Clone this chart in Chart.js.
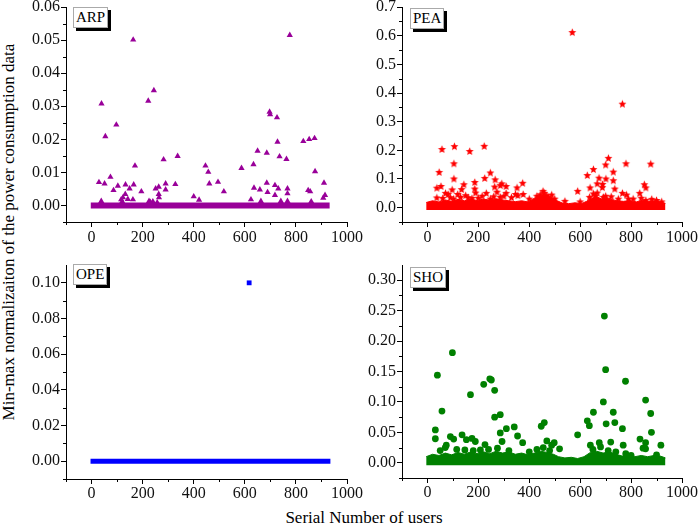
<!DOCTYPE html>
<html>
<head>
<meta charset="utf-8">
<script src="https://cdn.jsdelivr.net/npm/chart.js@4.4.1/dist/chart.umd.min.js"></script>
<style>
body{margin:0;background:#fff;width:699px;height:526px;overflow:hidden;position:relative;font-family:"Liberation Serif","Times New Roman",serif;color:#000;}
canvas{position:absolute;}
.tag{position:absolute;background:#fff;border:1px solid #aaa;box-shadow:3px 3px 0 #000;font-size:15px;line-height:19px;padding:0 2px;box-sizing:border-box;height:21px;}
#ytitle{position:absolute;left:9px;top:232px;transform:translate(-50%,-50%) rotate(-90deg);white-space:nowrap;font-size:17px;}
#xtitle{position:absolute;left:364px;top:518px;transform:translate(-50%,-50%);white-space:nowrap;font-size:17px;}
</style>
</head>
<body>
<div id="ytitle">Min-max normalizaiton of the power consumption data</div>
<div id="xtitle">Serial Number of users</div>
<div class="tag" style="left:73px;top:7px;">ARP</div>
<div class="tag" style="left:410px;top:8px;">PEA</div>
<div class="tag" style="left:73px;top:264px;">OPE</div>
<div class="tag" style="left:410px;top:267px;">SHO</div>
<script>
// tick labels
var xTicks = [0, 200, 400, 600, 800, 1000];
var xMinor = [-100, 100, 300, 500, 700, 900];
var arpTicks = [0, 0.01, 0.02, 0.03, 0.04, 0.05, 0.06];
var arpMinor = [-0.005, 0.005, 0.015, 0.025, 0.035, 0.045, 0.055];
var peaTicks = [0, 0.1, 0.2, 0.3, 0.4, 0.5, 0.6, 0.7];
var peaMinor = [-0.05, 0.05, 0.15, 0.25, 0.35, 0.45, 0.55, 0.65];
var opeTicks = [0, 0.02, 0.04, 0.06, 0.08, 0.10];
var opeMinor = [-0.01, 0.01, 0.03, 0.05, 0.07, 0.09];
var shoTicks = [0, 0.05, 0.10, 0.15, 0.20, 0.25, 0.30];
var shoMinor = [-0.025, 0.025, 0.075, 0.125, 0.175, 0.225, 0.275];

// ARP (users above the zero line)
var arpX = [29,51,38,54,74,86,97,103,116,123,132,133,142,149,165,162,170,195,225,240,251,263,263,264,282,290,290,328,337,400,421,446,457,461,495,518,587,624,634,636,650,659,663,686,686,689,718,731,736,718,763,767,767,767,741,829,852,873,875,848,856,860,910,914,907,163,39,222,244,697,699,726,776,728,120,230,257];
var arpY = [0.0070,0.0066,0.0013,0.0209,0.0086,0.0046,0.0244,0.0059,0.0018,0.0024,0.0034,0.0063,0.0019,0.0051,0.0063,0.0018,0.0120,0.0042,0.0013,0.0012,0.0051,0.0056,0.0034,0.0024,0.0139,0.0066,0.0048,0.0064,0.0149,0.0027,0.0017,0.0120,0.0101,0.0066,0.0071,0.0042,0.0113,0.0018,0.0124,0.0053,0.0165,0.0048,0.0013,0.0159,0.0068,0.0040,0.0061,0.0051,0.0148,0.0031,0.0140,0.0051,0.0036,0.0013,0.0013,0.0194,0.0200,0.0203,0.0103,0.0046,0.0042,0.0012,0.0068,0.0031,0.0023,0.0501,0.0308,0.0316,0.0348,0.0283,0.0275,0.0266,0.0515,0.0192,0.0012,0.0010,0.0009];
var arpBaseX = [-3, 932];
var arpBaseY = [0, 0];

// PEA
var peaX = [569,766,57,106,166,223,104,46,104,37,53,37,71,81,97,103,119,134,143,130,150,186,186,189,175,225,247,231,266,264,273,247,286,292,309,309,286,352,355,374,376,346,454,459,469,488,443,590,628,652,639,637,667,674,688,687,667,700,711,701,730,730,736,722,766,780,782,808,834,852,858,877,881,858,652,691,60,90,160,200,215,260,300,330,400,430,475,500,540,600,660,700,750,790,840,900,920];
var peaY = [0.611,0.361,0.203,0.213,0.196,0.214,0.153,0.123,0.100,0.068,0.074,0.034,0.050,0.046,0.062,0.030,0.046,0.063,0.080,0.036,0.042,0.088,0.065,0.051,0.032,0.102,0.121,0.050,0.097,0.072,0.054,0.030,0.077,0.083,0.074,0.050,0.036,0.069,0.042,0.085,0.046,0.046,0.057,0.050,0.042,0.044,0.045,0.057,0.112,0.133,0.069,0.036,0.083,0.103,0.081,0.070,0.051,0.149,0.172,0.100,0.124,0.094,0.065,0.038,0.050,0.153,0.044,0.030,0.050,0.080,0.069,0.152,0.029,0.025,0.048,0.036,0.032,0.035,0.035,0.033,0.040,0.038,0.040,0.035,0.030,0.040,0.035,0.030,0.022,0.020,0.040,0.040,0.030,0.030,0.033,0.025,0.020];
// dense band of small values: upper edge
var peaBandX = [-5,20,45,70,95,120,145,170,195,220,245,270,295,320,345,370,395,420,440,455,470,490,510,530,555,580,605,625,645,665,685,705,725,745,770,795,820,845,870,895,915,935];
var peaBandY = [0.018,0.024,0.020,0.027,0.022,0.029,0.024,0.030,0.025,0.030,0.026,0.031,0.027,0.024,0.021,0.024,0.020,0.033,0.040,0.046,0.040,0.035,0.024,0.016,0.014,0.017,0.014,0.022,0.033,0.038,0.030,0.035,0.028,0.024,0.022,0.025,0.020,0.026,0.022,0.024,0.020,0.015];

// OPE
var opeX = [617];
var opeY = [0.100];
var opeBaseX = [-4, 935];
var opeBaseY = [0, 0];

// SHO
var shoX = [695,700,98,39,778,221,245,251,264,169,857,691,57,652,730,877,286,264,628,736,459,702,636,447,341,310,766,31,880,286,590,136,90,354,103,31,175,835,153,188,469,293,720,857,675,374,498,74,226,488,640,769,917,70,519,857,147,208,847,779,50,115,180,240,275,320,400,430,455,480,650,680,710,740,800,900];
var shoY = [0.241,0.153,0.181,0.144,0.134,0.129,0.138,0.136,0.119,0.112,0.103,0.100,0.085,0.083,0.083,0.081,0.079,0.075,0.069,0.066,0.066,0.064,0.061,0.060,0.059,0.056,0.056,0.054,0.050,0.049,0.046,0.046,0.043,0.044,0.039,0.0395,0.040,0.039,0.038,0.035,0.036,0.035,0.034,0.033,0.033,0.033,0.033,0.029,0.030,0.029,0.029,0.029,0.029,0.025,0.023,0.023,0.021,0.021,0.024,0.015,0.020,0.022,0.020,0.022,0.024,0.020,0.018,0.022,0.025,0.020,0.022,0.026,0.020,0.018,0.012,0.013];
var shoBandX = [-5,20,45,70,95,120,145,170,195,220,245,270,295,320,345,370,395,420,445,470,495,515,540,565,590,615,640,665,690,715,740,765,790,815,840,865,890,915,935];
var shoBandY = [0.010,0.014,0.012,0.016,0.013,0.017,0.014,0.018,0.015,0.018,0.015,0.019,0.016,0.018,0.014,0.016,0.013,0.016,0.019,0.017,0.014,0.010,0.008,0.009,0.007,0.010,0.017,0.019,0.016,0.018,0.014,0.011,0.012,0.010,0.012,0.010,0.012,0.011,0.008];

var AXW = 66, AXH = 40, PADT = 20, PADR = 34;
var tickFont = {family: '"Liberation Serif","Times New Roman",serif', size: 16};

function makeStar(color, r) {
    var c = document.createElement("canvas");
    var s = Math.ceil(r * 2) + 2;
    c.width = s; c.height = s;
    var g = c.getContext("2d");
    g.fillStyle = color;
    g.beginPath();
    for (var i = 0; i < 10; i++) {
        var rad = i % 2 ? r * 0.45 : r;
        var a = -Math.PI / 2 + i * Math.PI / 5;
        g.lineTo(s / 2 + rad * Math.cos(a), s / 2 + rad * Math.sin(a));
    }
    g.closePath();
    g.fill();
    return c;
}

function pts(xs, ys) {
    return xs.map(function (x, i) { return {x: x, y: ys[i]}; });
}

var minorTicks = {
    id: "minorTicks",
    afterDraw: function (chart, args, o) {
        var ctx = chart.ctx, sx = chart.scales.x, sy = chart.scales.y;
        ctx.save();
        ctx.strokeStyle = "#000";
        ctx.lineWidth = 1;
        ctx.beginPath();
        o.x.forEach(function (v) {
            var px = Math.round(sx.getPixelForValue(v)) + 0.5;
            ctx.moveTo(px, sx.top); ctx.lineTo(px, sx.top + 3);
        });
        o.y.forEach(function (v) {
            var py = Math.round(sy.getPixelForValue(v)) + 0.5;
            ctx.moveTo(sy.right, py); ctx.lineTo(sy.right - 3, py);
        });
        ctx.stroke();
        ctx.restore();
    }
};

function makePanel(p) {
    var cv = document.createElement("canvas");
    var W = AXW + (p.right - p.left) + PADR;
    var H = PADT + (p.bottom - p.top) + AXH;
    cv.width = W; cv.height = H;
    cv.style.left = (p.left - AXW) + "px";
    cv.style.top = (p.top - PADT) + "px";
    document.body.appendChild(cv);

    var datasets = [{
        data: pts(p.xs, p.ys),
        pointStyle: p.marker,
        pointRadius: p.r,
        backgroundColor: p.color,
        borderColor: p.color,
        borderWidth: 0,
        order: 0
    }, {
        data: pts(p.bandX, p.bandY),
        showLine: true,
        pointRadius: 0,
        borderColor: p.color,
        borderWidth: p.bandW,
        backgroundColor: p.color,
        fill: p.bandLow === undefined ? false : {value: p.bandLow},
        tension: 0,
        order: 1
    }];

    new Chart(cv, {
        type: "scatter",
        data: {datasets: datasets},
        plugins: [minorTicks],
        options: {
            responsive: false,
            animation: false,
            layout: {padding: {left: 0, top: PADT, right: PADR, bottom: 0}},
            plugins: {
                legend: {display: false},
                tooltip: {enabled: false},
                minorTicks: {x: xMinor, y: p.minor}
            },
            scales: {
                x: {
                    type: "linear", min: -100, max: 1000,
                    afterBuildTicks: function (s) { s.ticks = xTicks.map(function (v) { return {value: v}; }); },
                    afterFit: function (s) { s.height = AXH; },
                    ticks: {font: tickFont, color: "#111", padding: p.xPad, maxRotation: 0, autoSkip: false,
                        callback: function (v) { return String(v); }},
                    grid: {drawOnChartArea: false, drawTicks: true, tickLength: 5, color: "#000"},
                    border: {display: true, color: "#000", width: 1}
                },
                y: {
                    type: "linear", min: p.ymin, max: p.ymax,
                    afterBuildTicks: function (s) { s.ticks = p.ticks.map(function (v) { return {value: v}; }); },
                    afterFit: function (s) { s.width = AXW; },
                    ticks: {font: tickFont, color: "#111", padding: 1, autoSkip: false,
                        callback: function (v) { return v.toFixed(p.dec); }},
                    grid: {drawOnChartArea: false, drawTicks: true, tickLength: 5, color: "#000"},
                    border: {display: true, color: "#000", width: 1}
                }
            }
        }
    });
}

makePanel({left: 66, right: 347, top: 7, bottom: 222, ymin: -0.005, ymax: 0.06, ticks: arpTicks, minor: arpMinor, dec: 2,
    xs: arpX, ys: arpY, bandX: arpBaseX, bandY: arpBaseY, bandW: 6, marker: "triangle", r: 3.6, color: "#990099", xPad: 1});
makePanel({left: 402, right: 682, top: 7, bottom: 222, ymin: -0.05, ymax: 0.7, ticks: peaTicks, minor: peaMinor, dec: 1,
    xs: peaX, ys: peaY, bandX: peaBandX, bandY: peaBandY, bandW: 1, bandLow: -0.008, marker: makeStar("#ff0000", 4.2), r: 4, color: "#ff0000", xPad: 1});
makePanel({left: 66, right: 347, top: 265, bottom: 479, ymin: -0.01, ymax: 0.11, ticks: opeTicks, minor: opeMinor, dec: 2,
    xs: opeX, ys: opeY, bandX: opeBaseX, bandY: opeBaseY, bandW: 5, marker: "rect", r: 3.4, color: "#0000ff", xPad: 0});
makePanel({left: 402, right: 682, top: 264.75, bottom: 478.25, ymin: -0.025, ymax: 0.325, ticks: shoTicks, minor: shoMinor, dec: 2,
    xs: shoX, ys: shoY, bandX: shoBandX, bandY: shoBandY, bandW: 1, bandLow: -0.004, marker: "circle", r: 3.4, color: "#008000", xPad: 0});
</script>
</body>
</html>
